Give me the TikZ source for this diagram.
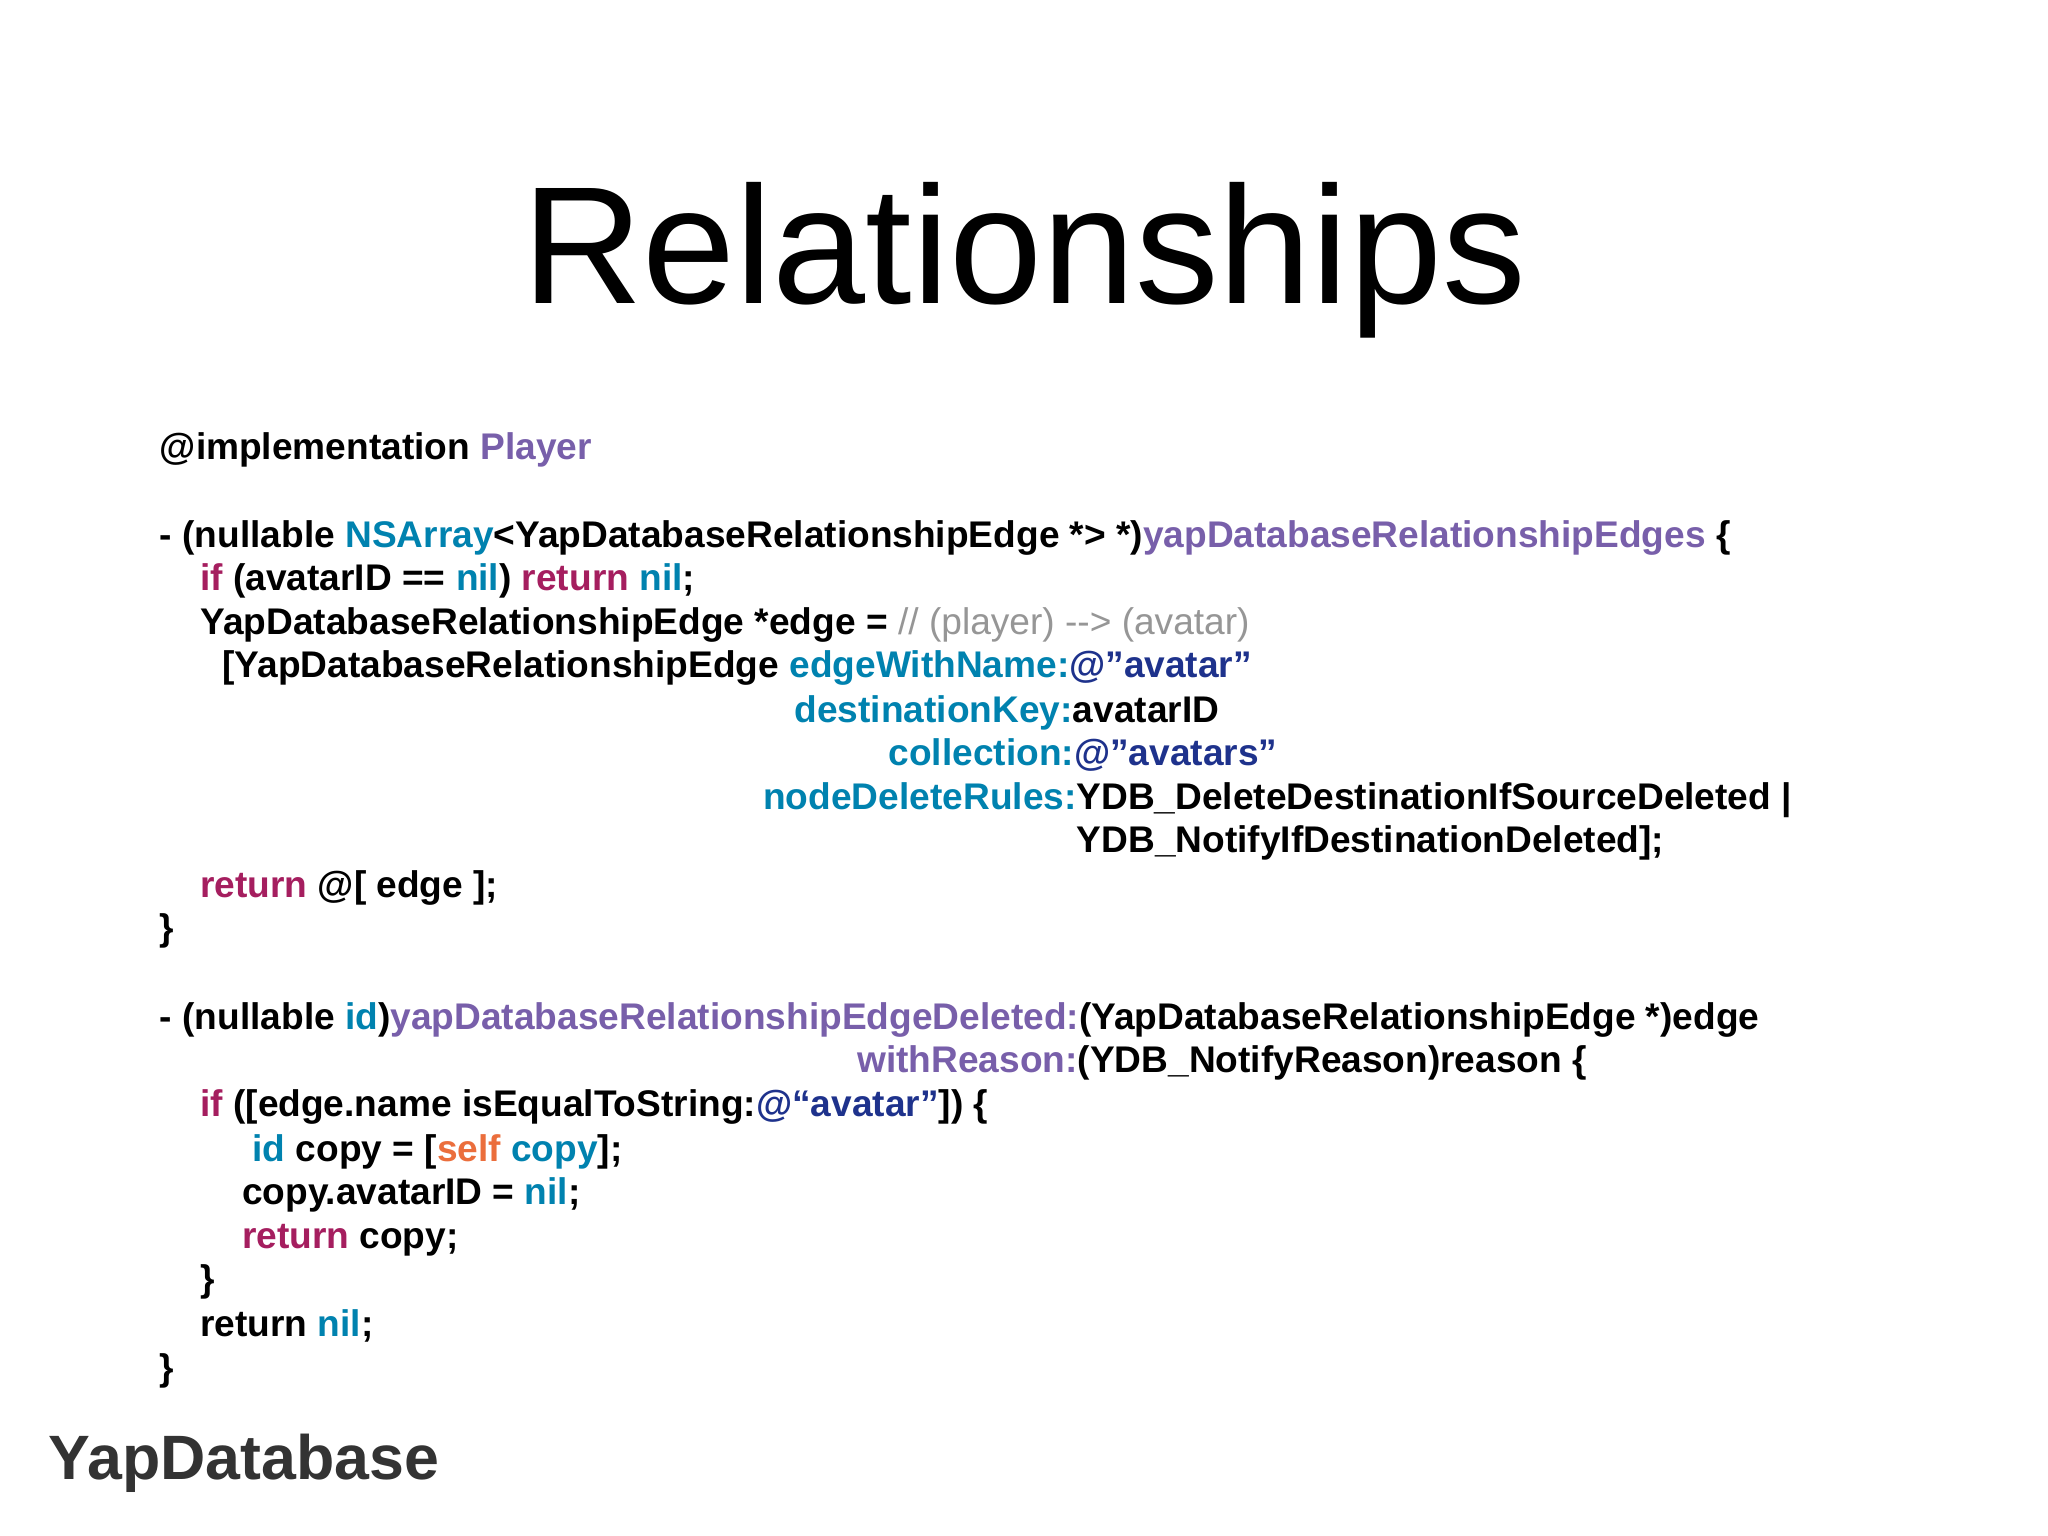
\documentclass[tikz,border=0pt]{standalone}
\usepackage{fontspec}
\setmainfont{Liberation Sans}
\definecolor{cpur}{RGB}{120,95,170}
\definecolor{cteal}{RGB}{0,130,175}
\definecolor{cmag}{RGB}{165,30,95}
\definecolor{cblue}{RGB}{30,50,140}
\definecolor{cgray}{RGB}{150,150,150}
\definecolor{corg}{RGB}{235,110,60}
\newcommand\Pu[1]{\textcolor{cpur}{#1}}
\newcommand\Te[1]{\textcolor{cteal}{#1}}
\newcommand\Ma[1]{\textcolor{cmag}{#1}}
\newcommand\Bl[1]{\textcolor{cblue}{#1}}
\newcommand\Gr[1]{\textcolor{cgray}{#1}}
\newcommand\Or[1]{\textcolor{corg}{#1}}
\begin{document}
\begin{tikzpicture}[x=0.5pt,y=-0.5pt,
  code/.style={anchor=base west,inner sep=0pt,font=\fontsize{14.2}{16}\selectfont\bfseries}]
\useasboundingbox[fill=white] (0,0) rectangle (1568,1176);
\node[anchor=base,inner sep=0pt,font=\fontsize{64}{70}\selectfont] (title) at (784,232) {Relationships};
\node[code] (l1) at (122,352) {@implementation \Pu{Player}};
\node[code] (l2) at (122,419) {- (nullable \Te{NSArray}<YapDatabaseRelationshipEdge *> *)\Pu{yapDatabaseRelationshipEdges} \{};
\node[code] (l3) at (153,452) {\Ma{if} (avatarID == \Te{nil}) \Ma{return} \Te{nil};};
\node[code] (l4) at (153,486) {YapDatabaseRelationshipEdge *edge = \Gr{\mdseries // (player) -{}-> (avatar)}};
\node[code] (l5) at (170,519) {[YapDatabaseRelationshipEdge \Te{edgeWithName:}\Bl{@"avatar"}};
\node[code] (l6) at (608,553) {\Te{destinationKey:}avatarID};
\node[code] (l7) at (680,586) {\Te{collection:}\Bl{@"avatars"}};
\node[code] (l8) at (584,620) {\Te{nodeDeleteRules:}YDB\_DeleteDestinationIfSourceDeleted |};
\node[code] (l9) at (824,653) {YDB\_NotifyIfDestinationDeleted];};
\node[code] (l10) at (153,687) {\Ma{return} @[ edge ];};
\node[code] (l11) at (122,720) {\}};
\node[code] (l12) at (122,788) {- (nullable \Te{id})\Pu{yapDatabaseRelationshipEdgeDeleted:}(YapDatabaseRelationshipEdge *)edge};
\node[code] (l13) at (656,821) {\Pu{withReason:}(YDB\_NotifyReason)reason \{};
\node[code] (l14) at (153,855) {\Ma{if} ([edge.name isEqualToString:\Bl{@“avatar"}]) \{};
\node[code] (l15) at (193,889) {\Te{id} copy = [\Or{self} \Te{copy}];};
\node[code] (l16) at (185,922) {copy.avatarID = \Te{nil};};
\node[code] (l17) at (185,956) {\Ma{return} copy;};
\node[code] (l18) at (153,989) {\}};
\node[code] (l19) at (153,1023) {return \Te{nil};};
\node[code] (l20) at (122,1057) {\}};
\node[anchor=base west,inner sep=0pt,font=\fontsize{24}{28}\selectfont\bfseries,text=black!80] (logo) at (37,1133) {YapDatabase};
\end{tikzpicture}
\end{document}
